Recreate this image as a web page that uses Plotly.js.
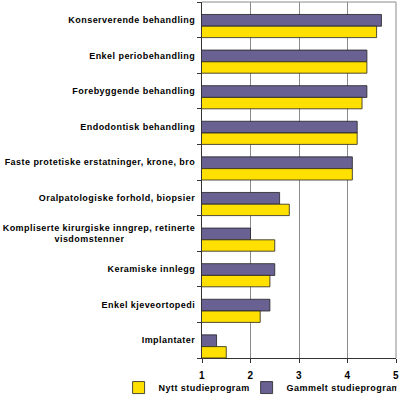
<!DOCTYPE html>
<html>
<head>
<meta charset="utf-8">
<script src="https://cdn.plot.ly/plotly-3.0.1.min.js"></script>
<style>
html,body{margin:0;padding:0;background:#fff;}
#chart{width:400px;height:395px;}
#chart .ytick text, #chart .xtick text, #chart .legendtext {letter-spacing:0.45px;}
</style>
</head>
<body>
<div id="chart"></div>
<script>
// Categories (top to bottom)
const categories = [
  "Konserverende behandling",
  "Enkel periobehandling",
  "Forebyggende behandling",
  "Endodontisk behandling",
  "Faste protetiske erstatninger, krone, bro",
  "Oralpatologiske forhold, biopsier",
  "Kompliserte kirurgiske inngrep, retinerte visdomstenner",
  "Keramiske innlegg",
  "Enkel kjeveortopedi",
  "Implantater"
];
// Tick label text (line break for the long label)
const tickLabels = [
  "Konserverende behandling",
  "Enkel periobehandling",
  "Forebyggende behandling",
  "Endodontisk behandling",
  "Faste protetiske erstatninger, krone, bro",
  "Oralpatologiske forhold, biopsier",
  "Kompliserte kirurgiske inngrep, retinerte<br>visdomstenner" + "\u00a0".repeat(24),
  "Keramiske innlegg",
  "Enkel kjeveortopedi",
  "Implantater"
];
const nyttValues    = [4.6, 4.4, 4.3, 4.2, 4.1, 2.8, 2.5, 2.4, 2.2, 1.5];
const gammeltValues = [4.7, 4.4, 4.4, 4.2, 4.1, 2.6, 2.0, 2.5, 2.4, 1.3];
const xTicks = [1, 2, 3, 4, 5];

const FONT = "'Liberation Sans', Arial, sans-serif";

const traces = [
  {
    type: 'bar', orientation: 'h', name: 'Gammelt studieprogram',
    y: categories, x: gammeltValues,
    offset: -0.15, width: 0.33,
    marker: {color: '#686192', line: {color: '#222', width: 0.8}},
    legendrank: 2, hoverinfo: 'x+y'
  },
  {
    type: 'bar', orientation: 'h', name: 'Nytt studieprogram',
    y: categories, x: nyttValues,
    offset: 0.18, width: 0.32,
    marker: {color: '#FFE000', line: {color: '#222', width: 0.8}},
    legendrank: 1, hoverinfo: 'x+y'
  }
];

const layout = {
  width: 400, height: 395,
  margin: {l: 202, r: 4, t: 2, b: 37, autoexpand: false},
  paper_bgcolor: '#fff', plot_bgcolor: '#fff',
  barmode: 'group',
  showlegend: true,
  legend: {
    orientation: 'h', xref: 'paper', yref: 'paper',
    x: -0.43, xanchor: 'left', y: -0.083, yanchor: 'middle',
    bgcolor: 'rgba(0,0,0,0)',
    font: {family: FONT, size: 9, color: '#000', weight: 'bold'},
    itemwidth: 30, tracegroupgap: 0
  },
  xaxis: {
    range: [1, 5], tickvals: xTicks, ticktext: xTicks.map(String),
    showgrid: true, gridcolor: '#8a8a8a', gridwidth: 1,
    showline: true, linecolor: '#333', linewidth: 1,
    ticks: 'outside', ticklen: 4, tickcolor: '#333',
    ticklabelstandoff: 4,
    tickfont: {family: FONT, size: 10, color: '#000', weight: 'bold'},
    zeroline: false, fixedrange: true
  },
  yaxis: {
    type: 'category', range: [9.5, -0.5],
    tickvals: categories, ticktext: tickLabels,
    showgrid: false,
    showline: true, linecolor: '#333', linewidth: 1,
    ticks: 'outside', tickson: 'boundaries', ticklen: 4, tickcolor: '#333',
    ticklabelstandoff: 4,
    tickfont: {family: FONT, size: 9, color: '#000', weight: 'bold'},
    fixedrange: true
  },
  shapes: [
    {type: 'line', xref: 'paper', yref: 'paper', x0: 0, x1: 1, y0: 1, y1: 1,
     line: {color: '#8a8a8a', width: 1}},
    {type: 'line', xref: 'paper', yref: 'paper', x0: 1, x1: 1, y0: 0, y1: 1,
     line: {color: '#8a8a8a', width: 1}}
  ]
};

Plotly.newPlot('chart', traces, layout, {displayModeBar: false, staticPlot: true});
</script>
</body>
</html>
